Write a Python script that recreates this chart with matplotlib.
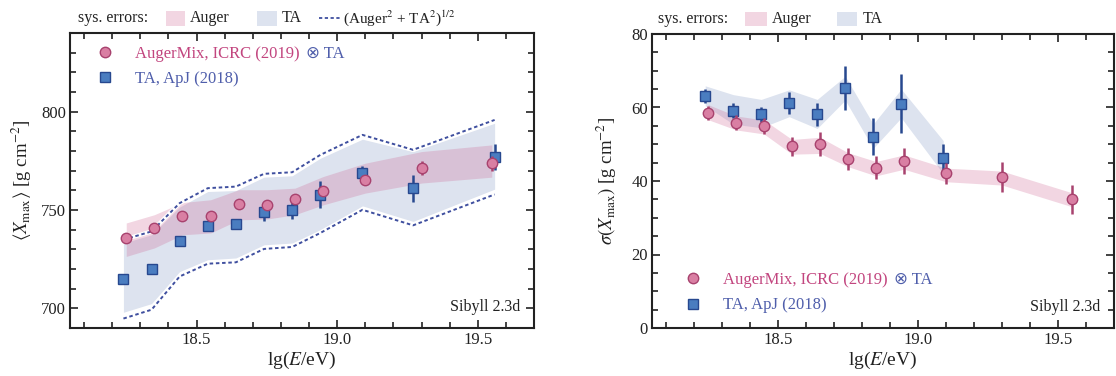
import matplotlib
matplotlib.use("Agg")
import matplotlib.pyplot as plt
from matplotlib.patches import Rectangle
from matplotlib.lines import Line2D
from matplotlib.ticker import MultipleLocator, FormatStrFormatter

plt.rcParams['font.family'] = ['Liberation Serif', 'DejaVu Serif']
plt.rcParams['mathtext.fontset'] = 'stix'

# energy bins
lgE_auger = [18.25, 18.35, 18.45, 18.55, 18.65, 18.75, 18.85, 18.95, 19.10, 19.30, 19.55]
lgE_ta = [18.24, 18.34, 18.44, 18.54, 18.64, 18.74, 18.84, 18.94, 19.09, 19.27, 19.56]

# <Xmax>
xmax_auger = [735.7, 740.8, 747.2, 747.2, 753.1, 752.6, 755.7, 759.7, 765.2, 771.3, 773.8]
xmax_auger_err = [1.5, 1.5, 1.5, 1.5, 2.0, 2.0, 2.0, 2.5, 2.5, 3.4, 3.8]
xmax_ta = [714.9, 720.0, 734.0, 742.0, 742.8, 748.9, 749.9, 757.7, 768.7, 761.1, 776.9]
xmax_ta_err = [1.0, 1.0, 1.0, 2.5, 2.5, 4.7, 4.7, 6.8, 3.8, 6.8, 6.8]

xmax_auger_sys_lo = [726.4, 730.7, 737.4, 738.3, 745.0, 745.4, 747.6, 752.6, 758.6, 763.7, 766.7]
xmax_auger_sys_hi = [743.4, 747.6, 753.8, 755.2, 760.3, 760.3, 761.1, 767.0, 773.8, 779.7, 783.1]
xmax_ta_sys_lo = [698.0, 702.4, 718.7, 724.7, 725.6, 732.3, 733.2, 740.0, 752.1, 744.2, 760.6]
xmax_ta_sys_hi = [733.2, 737.4, 751.5, 759.4, 759.9, 766.7, 767.4, 776.3, 786.0, 779.7, 794.1]
xmax_comb_lo = [694.8, 699.3, 716.2, 722.7, 723.4, 730.2, 731.2, 738.3, 750.1, 742.2, 757.9]
xmax_comb_hi = [734.9, 739.1, 753.5, 761.1, 761.9, 768.4, 769.2, 778.0, 788.2, 780.6, 795.8]

# sigma(Xmax)
sig_auger = [58.6, 55.9, 55.0, 49.5, 50.1, 46.0, 43.6, 45.5, 42.1, 41.0, 35.0]
sig_auger_err = [1.9, 2.0, 2.1, 2.6, 3.2, 2.9, 3.1, 3.6, 2.8, 4.1, 3.9]
sig_ta = [63.1, 59.1, 58.1, 61.1, 58.1, 65.2, 52.1, 61.0, 46.2]
sig_ta_err = [2.0, 2.0, 2.0, 3.0, 3.0, 6.0, 5.0, 8.0, 4.0]

sig_auger_sys_lo = [56.7, 53.9, 52.8, 47.3, 47.5, 43.9, 41.4, 43.2, 39.8, 38.9, 33.0]
sig_auger_sys_hi = [60.8, 57.7, 56.6, 51.3, 51.9, 47.7, 45.3, 47.1, 43.5, 42.7, 36.8]
sig_ta_sys_lo = [60.5, 55.5, 54.5, 57.5, 54.3, 62.0, 48.9, 57.2, 42.0]
sig_ta_sys_hi = [65.9, 63.5, 62.2, 64.8, 62.2, 68.5, 55.5, 65.0, 51.0]

PINK_BAND = '#cc5c8c'
PINK_KEY = '#f2d6e2'
BLUE_BAND = '#dde3ef'
PINK_FACE = '#d97fa3'
PINK_EDGE = '#a8426e'
BLUE_FACE = '#4a7dc0'
BLUE_EDGE = '#27488f'
PINK_TXT = '#c2457f'
BLUE_TXT = '#4f5eab'
DASH = '#3f4f9f'
INK = '#222222'
DASH_STYLE = (0, (1.8, 1.4))

fig = plt.figure(figsize=(11.16, 3.76), dpi=100)
ax1 = fig.add_axes([70/1116, 48/376, 464/1116, 295/376])
ax2 = fig.add_axes([652/1116, 48/376, 462/1116, 294/376])


def style_axis(ax):
    ax.set_xlim(18.05, 19.7)
    ax.xaxis.set_major_locator(MultipleLocator(0.5))
    ax.xaxis.set_minor_locator(MultipleLocator(0.1))
    ax.xaxis.set_major_formatter(FormatStrFormatter('%.1f'))
    ax.tick_params(which='both', direction='in', top=True, right=True,
                   width=1.2, labelsize=12, colors=INK, pad=3)
    ax.tick_params(which='major', length=6)
    ax.tick_params(which='minor', length=4)
    for s in ax.spines.values():
        s.set_linewidth(1.5)
        s.set_color(INK)
    ax.set_xlabel(r'lg($E$/eV)', fontsize=14, color=INK, labelpad=1)
    ax.text(0.97, 0.07, 'Sibyll 2.3d', transform=ax.transAxes, ha='right',
            va='center', fontsize=11.5, color=INK)


def draw_points(ax, x_a, y_a, e_a, x_t, y_t, e_t):
    ax.errorbar(x_t, y_t, yerr=e_t, fmt='s', ms=7.5, mfc=BLUE_FACE, mec=BLUE_EDGE,
                mew=1.0, ecolor=BLUE_EDGE, elinewidth=1.8, capsize=0, zorder=5)
    ax.errorbar(x_a, y_a, yerr=e_a, fmt='o', ms=7.5, mfc=PINK_FACE, mec=PINK_EDGE,
                mew=1.0, ecolor=PINK_EDGE, elinewidth=1.8, capsize=0, zorder=6)


def sys_key(ax, xs, y0, y1, with_comb):
    # row of keys above the frame: label, Auger patch, TA patch, (combined line)
    yc = 0.5 * (y0 + y1)
    kw = dict(transform=ax.transAxes, va='center', ha='left', color=INK,
              fontsize=11.5, clip_on=False)
    ax.text(xs[0], yc, 'sys. errors:', **kw)
    ax.add_patch(Rectangle((xs[1], y0), xs[2] - xs[1], y1 - y0, fc=PINK_KEY, ec='none',
                           transform=ax.transAxes, clip_on=False))
    ax.text(xs[3], yc, 'Auger', **kw)
    ax.add_patch(Rectangle((xs[4], y0), xs[5] - xs[4], y1 - y0, fc=BLUE_BAND, ec='none',
                           transform=ax.transAxes, clip_on=False))
    ax.text(xs[6], yc, 'TA', **kw)
    if with_comb:
        ax.add_line(Line2D([xs[7], xs[8]], [yc, yc], color=DASH, lw=1.3, ls=DASH_STYLE,
                           transform=ax.transAxes, clip_on=False))
        kw['fontsize'] = 11
        ax.text(xs[9], yc, r'(Auger$^2$ + TA$^2$)$^{1/2}$', **kw)


def inner_legend(ax, **kw):
    handles = [Line2D([], [], ls='none', marker='o', ms=7.5, mfc=PINK_FACE, mec=PINK_EDGE),
               Line2D([], [], ls='none', marker='s', ms=7.5, mfc=BLUE_FACE, mec=BLUE_EDGE)]
    leg = ax.legend(handles, ['AugerMix, ICRC (2019)', 'TA, ApJ (2018)'],
                    frameon=False, fontsize=12, handlelength=1.0, handletextpad=1.3,
                    labelspacing=0.55, borderaxespad=0, **kw)
    t0, t1 = leg.get_texts()
    t0.set_color(PINK_TXT)
    t1.set_color(BLUE_TXT)
    ax.annotate('\u2297 TA', xy=(1, 0), xycoords=t0, xytext=(4, 0),
                textcoords='offset points', ha='left', va='bottom',
                fontsize=12, color=BLUE_TXT, zorder=10,
                family=['Liberation Serif', 'DejaVu Sans'])


# left: mean Xmax
ax1.fill_between(lgE_ta, xmax_ta_sys_lo, xmax_ta_sys_hi, color=BLUE_BAND, lw=0, zorder=1)
ax1.fill_between(lgE_auger, xmax_auger_sys_lo, xmax_auger_sys_hi, color=PINK_BAND,
                 alpha=0.25, lw=0, zorder=2)
for edge in (xmax_comb_lo, xmax_comb_hi):
    ax1.plot(lgE_ta, edge, color='white', lw=3.0, zorder=3)
    ax1.plot(lgE_ta, edge, color=DASH, lw=1.4, ls=DASH_STYLE, zorder=3)
draw_points(ax1, lgE_auger, xmax_auger, xmax_auger_err, lgE_ta, xmax_ta, xmax_ta_err)
ax1.set_ylim(690, 840)
ax1.yaxis.set_major_locator(MultipleLocator(50))
ax1.yaxis.set_minor_locator(MultipleLocator(10))
ax1.set_ylabel(r'$\langle X_{\rm max}\rangle$ [g cm$^{-2}$]', fontsize=13.5,
               color=INK, labelpad=5)
style_axis(ax1)
sys_key(ax1, [0.017, 0.207, 0.248, 0.259, 0.403, 0.446, 0.457, 0.537, 0.582, 0.588],
        1.024, 1.075, True)
inner_legend(ax1, loc='upper left', bbox_to_anchor=(0.044, 0.978))

# right: sigma(Xmax)
n_ta = len(sig_ta)
ax2.fill_between(lgE_ta[:n_ta], sig_ta_sys_lo, sig_ta_sys_hi, color=BLUE_BAND, lw=0, zorder=1)
ax2.fill_between(lgE_auger, sig_auger_sys_lo, sig_auger_sys_hi, color=PINK_BAND,
                 alpha=0.25, lw=0, zorder=2)
draw_points(ax2, lgE_auger, sig_auger, sig_auger_err, lgE_ta[:n_ta], sig_ta, sig_ta_err)
ax2.set_ylim(0, 80)
ax2.yaxis.set_major_locator(MultipleLocator(20))
ax2.yaxis.set_minor_locator(MultipleLocator(5))
ax2.set_ylabel(r'$\sigma(X_{\rm max})$ [g cm$^{-2}$]', fontsize=13.5,
               color=INK, labelpad=9)
style_axis(ax2)
sys_key(ax2, [0.013, 0.201, 0.249, 0.260, 0.400, 0.444, 0.455], 1.027, 1.075, False)
inner_legend(ax2, loc='lower left', bbox_to_anchor=(0.057, 0.027))

fig.savefig('out.png', dpi=100)
